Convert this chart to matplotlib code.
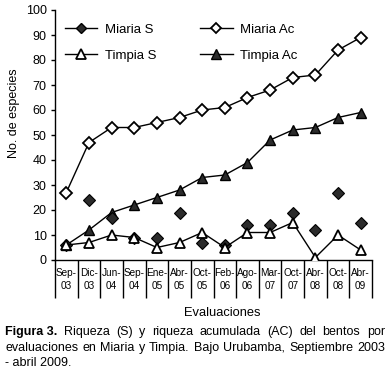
import matplotlib
matplotlib.use("Agg")
import matplotlib.pyplot as plt
from matplotlib.lines import Line2D
import numpy as np

plt.rcParams['font.family'] = ['Liberation Sans', 'DejaVu Sans']

# evaluation dates (Sep-03 ... Abr-09)
evaluaciones = ["Sep-\n03", "Dic-\n03", "Jun-\n04", "Sep-\n04", "Ene-\n05", "Abr-\n05",
                "Oct-\n05", "Feb-\n06", "Ago-\n06", "Mar-\n07", "Oct-\n07", "Abr-\n08",
                "Oct-\n08", "Abr-\n09"]

miaria_s = [6, 24, 17, 9, 9, 19, 7, 6, 14, 14, 19, 12, 27, 15]
miaria_ac = [27, 47, 53, 53, 55, 57, 60, 61, 65, 68, 73, 74, 84, 89]
timpia_s = [6, 7, 10, 9, 5, 7, 11, 5, 11, 11, 15, 1, 10, 4]
timpia_ac = [6, 12, 19, 22, 25, 28, 33, 34, 39, 48, 52, 53, 57, 59]

W, H = 390, 373
fig = plt.figure(figsize=(W / 100, H / 100), dpi=100)
ax = fig.add_axes([55 / W, 1 - 260 / H, (372 - 55) / W, 250 / H])

x = np.arange(len(evaluaciones))
dark = "#2b2b2b"
ms_d = 6
ms_t = 7.5

ax.plot(x, miaria_ac, color="black", lw=1, marker="D", ms=ms_d,
        mfc="white", mec="black", mew=1.3, zorder=3)
ax.plot(x, timpia_ac, color="black", lw=1, marker="^", ms=ms_t,
        mfc=dark, mec="black", mew=1.0, zorder=3)
ax.plot(x, miaria_s, linestyle="none", marker="D", ms=ms_d,
        mfc=dark, mec="black", mew=0.8, zorder=3)
ax.plot(x, timpia_s, color="black", lw=1, marker="^", ms=ms_t,
        mfc="white", mec="black", mew=1.3, zorder=4)

ax.set_xlim(-0.5, len(evaluaciones) - 0.5)
ax.set_ylim(0, 100)
ax.set_yticks(np.arange(0, 101, 10))
ax.tick_params(axis="y", labelsize=9, length=3, width=1, pad=3)

ax.set_xticks(x)
ax.set_xticklabels(evaluaciones, fontsize=7.2, linespacing=1.3)
ax.set_xticks(np.arange(-0.5, len(evaluaciones)), minor=True)
ax.tick_params(axis="x", which="major", length=0, pad=6)
ax.tick_params(axis="x", which="minor", length=27, width=1)

for s in ["top", "right"]:
    ax.spines[s].set_visible(False)
for s in ["left", "bottom"]:
    ax.spines[s].set_linewidth(1)

fig.text(14.5 / W, 1 - 113 / H, "No. de especies", fontsize=9,
         rotation=90, ha="center", va="center")
fig.text(222 / W, 1 - 313 / H, "Evaluaciones", fontsize=9.3,
         ha="center", va="center")

handles = [
    Line2D([], [], color="black", lw=1, marker="D", ms=5.5, mfc=dark, mec="black"),
    Line2D([], [], color="black", lw=1, marker="^", ms=7, mfc="white", mec="black", mew=1.3),
    Line2D([], [], color="black", lw=1, marker="D", ms=5.5, mfc="white", mec="black", mew=1.3),
    Line2D([], [], color="black", lw=1, marker="^", ms=7, mfc=dark, mec="black"),
]
labels = ["Miaria S", "Timpia S", "Miaria Ac", "Timpia Ac"]
ax.legend(handles, labels, ncol=2, frameon=False, fontsize=9.5,
          loc="upper left", bbox_to_anchor=(0.03, 0.945),
          handlelength=2.5, handletextpad=0.55, columnspacing=3.3,
          labelspacing=1.05, borderaxespad=0, borderpad=0)

# caption, justified by hand
cap_lines = [
    [("Figura 3.", "bold"), ("Riqueza", "normal"), ("(S)", "normal"), ("y", "normal"),
     ("riqueza", "normal"), ("acumulada", "normal"), ("(AC)", "normal"), ("del", "normal"),
     ("bentos", "normal"), ("por", "normal")],
    [(w, "normal") for w in "evaluaciones en Miaria y Timpia. Bajo Urubamba, Septiembre 2003".split()],
    [("- abril 2009.", "normal")],
]
cap_y = [332, 348, 363]
x0, x1 = 5, 385
fig.canvas.draw()
renderer = fig.canvas.get_renderer()
for i, (words, yy) in enumerate(zip(cap_lines, cap_y)):
    texts = [fig.text(0, 1 - yy / H, w, fontsize=9, fontweight=fw, va="center")
             for w, fw in words]
    widths = [t.get_window_extent(renderer).width for t in texts]
    if i < len(cap_lines) - 1 and len(texts) > 1:
        gap = (x1 - x0 - sum(widths)) / (len(texts) - 1)
    else:
        gap = 0
    pos = x0
    for t, wd in zip(texts, widths):
        t.set_x(pos / W)
        pos += wd + gap

fig.savefig("out.png", dpi=100)
